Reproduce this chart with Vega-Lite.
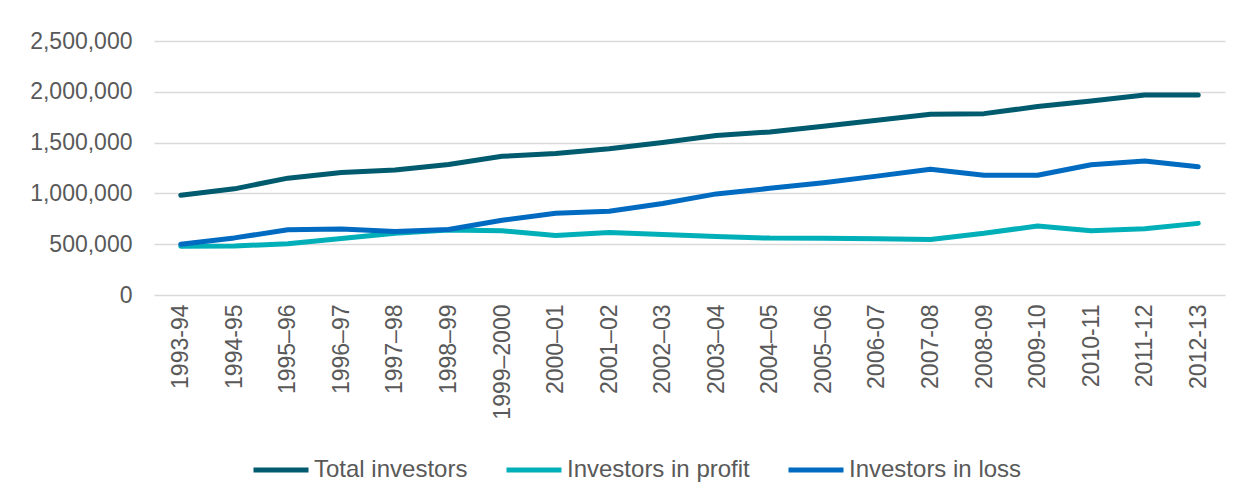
{
  "$schema": "https://vega.github.io/schema/vega-lite/v6.json",
  "width": 1071,
  "height": 254,
  "autosize": {"type": "none"},
  "padding": {"left": 154, "top": 41, "right": 17, "bottom": 202},
  "background": "white",
  "data": {
    "values": [
      {"period": "1993-94", "Total investors": 982000, "Investors in profit": 480000, "Investors in loss": 500000},
      {"period": "1994-95", "Total investors": 1045000, "Investors in profit": 482000, "Investors in loss": 562000},
      {"period": "1995–96", "Total investors": 1150000, "Investors in profit": 505000, "Investors in loss": 642000},
      {"period": "1996–97", "Total investors": 1205000, "Investors in profit": 555000, "Investors in loss": 650000},
      {"period": "1997–98", "Total investors": 1230000, "Investors in profit": 608000, "Investors in loss": 625000},
      {"period": "1998–99", "Total investors": 1285000, "Investors in profit": 640000, "Investors in loss": 645000},
      {"period": "1999–2000", "Total investors": 1365000, "Investors in profit": 632000, "Investors in loss": 735000},
      {"period": "2000–01", "Total investors": 1392000, "Investors in profit": 585000, "Investors in loss": 805000},
      {"period": "2001–02", "Total investors": 1440000, "Investors in profit": 615000, "Investors in loss": 825000},
      {"period": "2002–03", "Total investors": 1500000, "Investors in profit": 595000, "Investors in loss": 900000},
      {"period": "2003–04", "Total investors": 1570000, "Investors in profit": 575000, "Investors in loss": 995000},
      {"period": "2004–05", "Total investors": 1605000, "Investors in profit": 560000, "Investors in loss": 1050000},
      {"period": "2005–06", "Total investors": 1660000, "Investors in profit": 558000, "Investors in loss": 1105000},
      {"period": "2006-07", "Total investors": 1720000, "Investors in profit": 553000, "Investors in loss": 1170000},
      {"period": "2007-08", "Total investors": 1778000, "Investors in profit": 547000, "Investors in loss": 1238000},
      {"period": "2008-09", "Total investors": 1785000, "Investors in profit": 607000, "Investors in loss": 1178000},
      {"period": "2009-10", "Total investors": 1855000, "Investors in profit": 680000, "Investors in loss": 1178000},
      {"period": "2010-11", "Total investors": 1910000, "Investors in profit": 632000, "Investors in loss": 1282000},
      {"period": "2011-12", "Total investors": 1968000, "Investors in profit": 652000, "Investors in loss": 1318000},
      {"period": "2012-13", "Total investors": 1968000, "Investors in profit": 705000, "Investors in loss": 1262000}
    ]
  },
  "transform": [
    {"fold": ["Total investors", "Investors in profit", "Investors in loss"], "as": ["series", "value"]}
  ],
  "mark": {"type": "line", "strokeWidth": 5, "strokeCap": "round", "strokeJoin": "round"},
  "encoding": {
    "x": {
      "field": "period",
      "type": "ordinal",
      "sort": null,
      "scale": {"type": "point", "padding": 0.5},
      "axis": {
        "title": null,
        "labelAngle": -90,
        "labelFont": "Liberation Sans",
        "labelFontSize": 23,
        "labelColor": "#595959",
        "labelPadding": 9,
        "labelLimit": 300,
        "labelOverlap": false,
        "ticks": false,
        "domain": false,
        "grid": false
      }
    },
    "y": {
      "field": "value",
      "type": "quantitative",
      "scale": {"domain": [0, 2500000], "nice": false},
      "axis": {
        "title": null,
        "values": [0, 500000, 1000000, 1500000, 2000000, 2500000],
        "format": ",d",
        "labelFont": "Liberation Sans",
        "labelFontSize": 23,
        "labelColor": "#595959",
        "labelPadding": 22,
        "ticks": false,
        "domain": false,
        "grid": true,
        "gridColor": "#d9d9d9",
        "gridWidth": 1.5
      }
    },
    "color": {
      "field": "series",
      "type": "nominal",
      "scale": {
        "domain": ["Total investors", "Investors in profit", "Investors in loss"],
        "range": ["#005B6E", "#00AFB8", "#006BC0"]
      },
      "legend": {
        "title": null,
        "orient": "none",
        "legendX": 97,
        "legendY": 399,
        "direction": "horizontal",
        "symbolType": "stroke",
        "symbolStrokeWidth": 5,
        "symbolSize": 3025,
        "labelFont": "Liberation Sans",
        "labelFontSize": 24,
        "labelColor": "#595959",
        "labelOffset": 3,
        "labelLimit": 300,
        "columnPadding": 28
      }
    }
  },
  "config": {"view": {"stroke": null}}
}
